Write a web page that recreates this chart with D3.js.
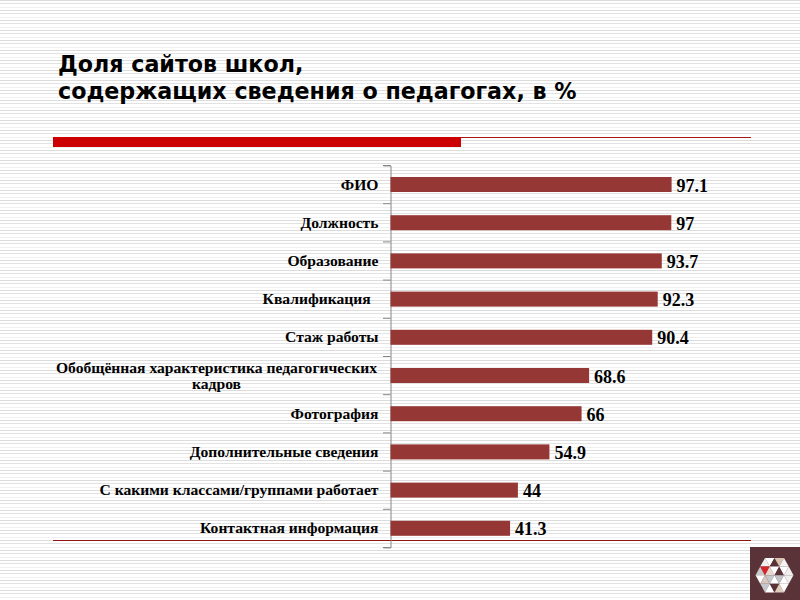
<!DOCTYPE html>
<html>
<head>
<meta charset="utf-8">
<script src="https://d3js.org/d3.v7.min.js"></script>
<style>
html, body { margin: 0; padding: 0; background: #fff; }
svg { display: block; }
.title { font-family: "DejaVu Sans", sans-serif; font-weight: bold; font-size: 22.2px; fill: #000; }
.cat { font-family: "Liberation Serif", serif; font-weight: bold; font-size: 15.6px; fill: #000; }
.val { font-family: "Liberation Serif", serif; font-weight: bold; font-size: 18px; fill: #000; }
</style>
</head>
<body>
<div id="chart"></div>
<script>
// chart values
var categories = [
    ["ФИО"],
    ["Должность"],
    ["Образование"],
    ["Квалификация  "],
    ["Стаж работы"],
    ["Обобщённая характеристика педагогических", "кадров"],
    ["Фотография"],
    ["Дополнительные сведения"],
    ["С какими классами/группами работает"],
    ["Контактная информация"]
];
var values = [97.1, 97, 93.7, 92.3, 90.4, 68.6, 66, 54.9, 44, 41.3];
var titleLines = ["Доля сайтов школ,", "содержащих сведения о педагогах, в %"];

var width = 800, height = 600;

var svg = d3.select("#chart").append("svg")
    .attr("width", width)
    .attr("height", height);

// striped slide background, repeats every 10px
var stripes = svg.append("g");
d3.range(0, height, 10).forEach(function(y0) {
    [[0, "#dcdcdc"], [3, "#e2e2e2"], [7, "#f0f0f0"]].forEach(function(s) {
        stripes.append("rect")
            .attr("x", 0)
            .attr("y", y0 + s[0])
            .attr("width", width)
            .attr("height", 1)
            .attr("fill", s[1]);
    });
});

// title
svg.append("g")
    .selectAll("text")
    .data(titleLines)
    .enter()
    .append("text")
    .attr("class", "title")
    .attr("x", 58)
    .attr("y", function(d, i) { return 72 + i * 26.5; })
    .text(function(d) { return d; });

// slide rules
svg.append("rect").attr("x", 53).attr("y", 137).attr("width", 408).attr("height", 10).attr("fill", "#cc0000");
svg.append("rect").attr("x", 461).attr("y", 137).attr("width", 290).attr("height", 1).attr("fill", "#a81818");
svg.append("rect").attr("x", 53).attr("y", 540).attr("width", 698).attr("height", 1).attr("fill", "#8e1616");

// chart
var x = d3.scaleLinear().domain([0, 100]).range([390.5, 680]);
var y = d3.scaleBand().domain(d3.range(values.length)).range([165.4, 547.4]);

var axis = d3.axisLeft(y).tickSizeOuter(7).tickSizeInner(0).tickFormat("");
var axisG = svg.append("g").attr("transform", "translate(390.5,0)").call(axis);
axisG.selectAll(".domain").attr("stroke", "#868686");

// ticks sit between the bars, at the band edges
svg.append("g")
    .selectAll("line")
    .data(d3.range(values.length + 1))
    .enter()
    .append("line")
    .attr("x1", 383)
    .attr("x2", 390.5)
    .attr("y1", function(d) { return 165.5 + d * y.step(); })
    .attr("y2", function(d) { return 165.5 + d * y.step(); })
    .attr("stroke", "#868686");

var barH = 15;
svg.append("g")
    .selectAll("rect")
    .data(values)
    .enter()
    .append("rect")
    .attr("x", x(0))
    .attr("y", function(d, i) { return y(i) + y.bandwidth() / 2 - barH / 2; })
    .attr("width", function(d) { return x(d) - x(0); })
    .attr("height", barH)
    .attr("fill", "#953735");

svg.append("g")
    .selectAll("text")
    .data(values)
    .enter()
    .append("text")
    .attr("class", "val")
    .attr("x", function(d) { return x(d) + 5; })
    .attr("y", function(d, i) { return y(i) + y.bandwidth() / 2 + 7; })
    .text(function(d) { return d; });

// category labels, wrapped ones are centred under the long line
var labels = svg.append("g")
    .selectAll("text")
    .data(categories)
    .enter()
    .append("text")
    .attr("class", "cat")
    .attr("xml:space", "preserve")
    .style("white-space", "pre")
    .attr("y", function(d, i) { return y(i) + y.bandwidth() / 2 + 5 - (d.length - 1) * 8; });

labels.each(function(d) {
    var t = d3.select(this);
    if (d.length == 1) {
        t.attr("x", 378.5).attr("text-anchor", "end").text(d[0]);
    } else {
        t.attr("text-anchor", "middle");
        t.selectAll("tspan")
            .data(d)
            .enter()
            .append("tspan")
            .attr("x", 216.5)
            .attr("dy", function(l, i) { return i ? 16 : 0; })
            .text(function(l) { return l; });
    }
});

// logo in the corner
var logo = svg.append("g");
logo.append("rect").attr("x", 750).attr("y", 547).attr("width", 50).attr("height", 53).attr("fill", "#5a3338");

var side = 9.5, rowH = 8.6, cx = 774.5, top0 = 558;
var rows = [
    ["#f0f0f0", "#ffffff", "#5a3338", "#d9c3b0", "#f4f4f4"],
    ["#c9c9c9", "#d9232a", "#e8d8cc", "#ffffff", "#5a3338", "#ffffff", "#f0f0f0"],
    ["#ffffff", "#d8c8c0", "#c4c8cc", "#ffffff", "#c0c4c8", "#ffffff", "#f0f0f0"],
    ["#c4c8cc", "#ffffff", "#5a3338", "#e0ccbc", "#ffffff"]
];
rows.forEach(function(row, r) {
    row.forEach(function(c, k) {
        var left = cx + (k - (row.length - 1) / 2) * side / 2;
        var up = (k + (r < 2 ? 0 : 1)) % 2 == 0;
        var yt = top0 + r * rowH, yb = yt + rowH;
        var pts = up
            ? [[left, yt], [left + side / 2, yb], [left - side / 2, yb]]
            : [[left - side / 2, yt], [left + side / 2, yt], [left, yb]];
        logo.append("polygon").attr("points", pts.join(" ")).attr("fill", c);
    });
});
</script>
</body>
</html>
